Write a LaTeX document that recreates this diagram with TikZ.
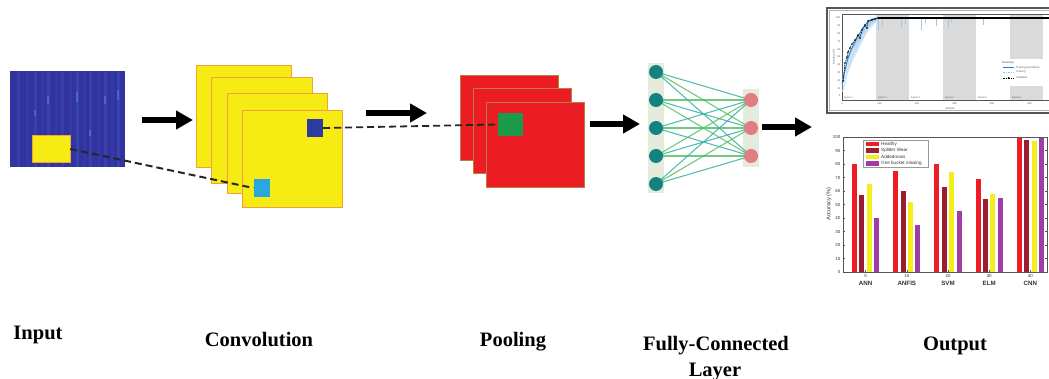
\documentclass[tikz,border=0pt]{standalone}
\usepackage{fontspec}
\setmainfont{Liberation Serif}
\setsansfont{Liberation Sans}
\usetikzlibrary{arrows.meta}
\pgfdeclarelayer{under}
\pgfsetlayers{under,main}

\definecolor{specblue}{HTML}{3134A0}
\definecolor{streakblue}{HTML}{4F6BC8}
\definecolor{streakbright}{HTML}{5FB4E6}
\definecolor{featyellow}{HTML}{F6EC14}
\definecolor{edgeorange}{HTML}{F0A23A}
\definecolor{poolred}{HTML}{EC1C24}
\definecolor{pooledge}{HTML}{B48040}
\definecolor{poolgreen}{HTML}{1C9A4A}
\definecolor{kerneldark}{HTML}{2D3C9C}
\definecolor{kernellight}{HTML}{29A8E0}
\definecolor{nnteal}{HTML}{14827E}
\definecolor{nnpink}{HTML}{E07C82}
\definecolor{nnbar}{HTML}{E4EBDC}
\definecolor{linkgreen}{HTML}{55C063}
\definecolor{linkteal}{HTML}{3AB0A2}
\definecolor{barred}{HTML}{EE1D25}
\definecolor{barmaroon}{HTML}{9C1C31}
\definecolor{baryellow}{HTML}{F4EE1F}
\definecolor{barpurple}{HTML}{A03CA6}
\definecolor{trainlight}{HTML}{9CC8EE}
\definecolor{trainband}{HTML}{C9E2F6}
\definecolor{trainblue}{HTML}{2D7CC4}
\definecolor{epochgray}{HTML}{DADADA}
\definecolor{axisgray}{HTML}{555555}

\begin{document}
\begin{tikzpicture}[x=1pt,y=-1pt,
  sheetY/.style={rectangle, draw=edgeorange, line width=.5pt, fill=featyellow, inner sep=0pt},
  sheetR/.style={rectangle, draw=pooledge, line width=.5pt, fill=poolred, inner sep=0pt},
  kernel/.style={rectangle, inner sep=0pt},
  neuron/.style={circle, inner sep=0pt, minimum size=14pt},
  stagelabel/.style={font=\fontsize{20.5}{24}\selectfont\bfseries, inner sep=0pt, anchor=base},
  bigarrow/.style={line width=6.5pt, -{Triangle[length=17pt,width=18pt]}},
  dashedlink/.style={line width=2pt, dash pattern=on 7pt off 4pt, draw=black!85},
  link/.style={line width=1.1pt, opacity=.85},
  tiny/.style={font=\fontsize{2.6}{3}\selectfont\sffamily, text=axisgray, inner sep=0pt},
  small/.style={font=\fontsize{4.4}{5}\selectfont\sffamily, text=black!80, inner sep=0pt},
]
\useasboundingbox (0,0) rectangle (1049,379);

% ---------- input spectrogram ----------
\node[rectangle, fill=specblue, minimum width=115pt, minimum height=96pt, inner sep=0pt] (input) at (67.5,119) {};
\begin{scope}
  \clip (10,71) rectangle (125,167);
  \foreach \sx/\op in {18/.22,27/.12,35/.25,42/.12,48/.28,56/.12,62/.22,70/.12,77/.3,84/.12,90/.25,98/.12,105/.25,112/.12,118/.28}
    \draw[streakblue, opacity=\op, line width=3pt] (\sx,71) -- (\sx,167);
  \foreach \sx/\sy/\h in {77/92/10,48/96/8,118/90/10,105/96/8,62/140/8,90/130/6,35/110/6}
    \fill[streakbright, opacity=.35] (\sx-1,\sy) rectangle (\sx+1,\sy+\h);
\end{scope}
\node[rectangle, fill=featyellow, draw=edgeorange, line width=.6pt, minimum width=38pt, minimum height=27pt, inner sep=0pt] (patch) at (51,149) {};

% ---------- convolution feature maps ----------
\node[sheetY, minimum width=95pt,  minimum height=102pt] (c1) at (243.5,116) {};
\node[sheetY, minimum width=101pt, minimum height=106pt] (c2) at (261.5,130) {};
\node[sheetY, minimum width=100pt, minimum height=100pt] (c3) at (277,143) {};
\node[sheetY, minimum width=100pt, minimum height=97pt]  (c4) at (292,158.5) {};
\node[kernel, fill=kerneldark,  minimum width=16pt, minimum height=18pt] (kernB) at (315,128) {};
\node[kernel, fill=kernellight, minimum width=16pt, minimum height=18pt] (kernA) at (261.5,188) {};

% ---------- pooling maps ----------
\node[sheetR, minimum width=98pt, minimum height=85pt] (p1) at (509,118) {};
\node[sheetR, minimum width=98pt, minimum height=85pt] (p2) at (522,131) {};
\node[sheetR, minimum width=98pt, minimum height=85pt] (p3) at (535,144.5) {};
\node[kernel, fill=poolgreen, minimum width=25pt, minimum height=23pt] (poolk) at (510.5,124.5) {};

% ---------- fully-connected layer ----------
\foreach \i/\yy in {1/72,2/100,3/128,4/156,5/184}
  \node[neuron, fill=nnteal] (L\i) at (656,\yy) {};
\foreach \i/\yy in {1/100,2/128,3/156}
  \node[neuron, fill=nnpink] (R\i) at (751,\yy) {};
\begin{pgfonlayer}{under}
  \fill[nnbar] (648,63) rectangle (664,193);
  \fill[nnbar] (743,89) rectangle (759,167);
  \foreach \l in {1,...,5}{
    \foreach \r in {1,2,3}{
      \ifodd\numexpr\l+\r\relax \def\lc{linkgreen}\else\def\lc{linkteal}\fi
      \draw[link, draw=\lc] (L\l.center) -- (R\r.center);
    }
  }
\end{pgfonlayer}

% ---------- flow arrows ----------
\coordinate (a1s) at (142,120); \coordinate (a1e) at (193,120);
\coordinate (a2s) at (366,113); \coordinate (a2e) at (427,113);
\coordinate (a3s) at (590,124); \coordinate (a3e) at (640,124);
\coordinate (a4s) at (762,127); \coordinate (a4e) at (812,127);
\draw[bigarrow] (a1s) -- (a1e);
\draw[bigarrow] (a2s) -- (a2e);
\draw[bigarrow] (a3s) -- (a3e);
\draw[bigarrow] (a4s) -- (a4e);

% ---------- receptive-field links ----------
\draw[dashedlink] (patch.east) -- (kernA.west);
\draw[dashedlink, line width=1.8pt] (kernB.east) -- (poolk.west);

% ---------- stage labels ----------
\node[stagelabel] (lin)   at (38,339)  {Input};
\node[stagelabel] (lconv) at (259,346) {Convolution};
\node[stagelabel] (lpool) at (513,346) {Pooling};
\node[stagelabel] (lfc)   at (716,350) {Fully-Connected};
\node[stagelabel] (lfc2)  at (715,376) {Layer};
\node[stagelabel] (lout)  at (955,350) {Output};

% ---------- training progress plot ----------
\begin{scope}
  \clip (0,0) rectangle (1049,379);
  \fill[white] (827,8) rectangle (1062,113);
  \fill[epochgray] (876,14) rectangle (909,100);
  \fill[epochgray] (943,14) rectangle (976,100);
  \fill[epochgray] (1010,14) rectangle (1043,100);
  \draw[axisgray, line width=.4pt] (842,14) rectangle (1062,100);
  % y ticks
  \foreach \v in {0,10,...,100}
    \node[tiny, anchor=east] (yt\v) at (840.5,{96-0.78*\v}) {\v};
  \node[tiny, rotate=90] (ylab) at (834,57) {Accuracy (\%)};
  % x ticks
  \foreach \v/\xx in {0/842,100/879.5,200/917,300/954.5,400/992,500/1029.5}
    \node[tiny, anchor=north] (xt\v) at (\xx,102) {\v};
  \node[tiny] (xlab) at (950,109) {Iteration};
  % epoch tags
  \foreach \e/\xx in {1/844,2/878,3/911,4/945,5/978,6/1012}
    \node[tiny, anchor=south west, font=\fontsize{2.4}{3}\selectfont\sffamily] (ep\e) at (\xx,99) {Epoch \e};
  % training band and raw training
  \fill[trainband, opacity=.9] (842,92) -- (845,78) -- (848,64) -- (852,54) -- (856,44) -- (860,36) -- (864,28) -- (868,22) -- (872,18) -- (880,17) -- (880,19) -- (874,24) -- (869,30) -- (865,36) -- (861,44) -- (857,52) -- (853,60) -- (849,70) -- (846,80) -- (843,92) -- cycle;
  \draw[trainlight, line width=.5pt] (842,88) -- (843,75) -- (844,82) -- (845,66) -- (846,72) -- (847,58) -- (848,64) -- (849,52) -- (850,60) -- (851,47) -- (852,55) -- (853,43) -- (854,50) -- (855,40) -- (856,48) -- (857,36) -- (858,44) -- (859,33) -- (860,42) -- (861,30) -- (862,38) -- (863,27) -- (864,34) -- (865,24) -- (866,31) -- (867,22) -- (868,28) -- (869,20) -- (870,26) -- (871,19) -- (872,24) -- (873,18) -- (874,22) -- (875,18) -- (876,21) -- (878,18) -- (1062,18);
  \foreach \sx/\sy in {878/30,882/26,901/28,905/24,921/30,925/23,936/26,948/28,951/22,983/25}
    \draw[trainlight, line width=.6pt] (\sx,18) -- (\sx,\sy);
  \draw[trainblue, line width=.9pt] (842,84) -- (845,70) -- (848,58) -- (851,50) -- (854,44) -- (857,38) -- (860,33) -- (863,28) -- (866,24) -- (869,21) -- (872,19.5) -- (876,18.5) -- (880,18);
  % validation
  \draw[black, line width=.6pt, dash pattern=on 1.5pt off 1pt] (843,81) -- (845,63) -- (847,57) -- (848,52) -- (850,48) -- (852,44) -- (855,40) -- (858,35) -- (860,38) -- (862,30) -- (865,25) -- (867,28) -- (868,21) -- (872,20) -- (875,19) -- (878,18);
  \foreach \px/\py in {843/81,845/63,847/57,848/52,850/48,852/44,855/40,858/35,860/38,862/30,865/25,867/28,868/21,872/20,875/19,878/18}
    \fill[black] (\px,\py) circle[radius=.9];
  \draw[black, line width=1.1pt] (878,18) -- (1062,18);
  % legend
  \fill[white] (1000,59) rectangle (1062,86);
  \node[tiny, anchor=west, font=\fontsize{2.6}{3}\selectfont\sffamily\bfseries] (lgt) at (1002,63) {Accuracy};
  \draw[trainblue, line width=.6pt] (1003,67.5) -- (1014,67.5);
  \node[tiny, anchor=west] (lg1) at (1016,67.5) {Training (smoothed)};
  \draw[trainlight, line width=.6pt, dash pattern=on 1.5pt off 1pt] (1003,72) -- (1014,72);
  \node[tiny, anchor=west] (lg2) at (1016,72) {Training};
  \draw[black, line width=.5pt, dash pattern=on 1.5pt off 1pt] (1003,78) -- (1014,78);
  \fill[black] (1008.5,78) circle[radius=1];
  \node[tiny, anchor=west] (lg3) at (1016,78) {Validation};
  % frame
  \draw[axisgray, line width=1.4pt] (827,8) rectangle (1062,113);
  \draw[black!30, line width=.8pt] (829.5,10.5) rectangle (1062,110.5);
\end{scope}

% ---------- accuracy bar chart ----------
\begin{scope}
  \clip (0,0) rectangle (1049,379);
  \foreach \g/\a/\b/\c/\d [count=\i from 0] in {ANN/80/57/65/40, ANFIS/75/60/52/35, SVM/80/63/74/45, ELM/69/54/58/55, CNN/100/98/97/99.5}{
    \pgfmathsetmacro\xo{852+41.2*\i}
    \pgfmathtruncatemacro\tk{10*\i}
    \fill[barred]    (\xo,272)      rectangle ({\xo+5},{272-1.35*\a});
    \fill[barmaroon] ({\xo+7.4},272)  rectangle ({\xo+12.4},{272-1.35*\b});
    \fill[baryellow] ({\xo+14.8},272) rectangle ({\xo+19.8},{272-1.35*\c});
    \fill[barpurple] ({\xo+22.2},272) rectangle ({\xo+27.2},{272-1.35*\d});
    \draw[axisgray, line width=.4pt] ({\xo+13.6},272) -- ({\xo+13.6},270);
    \node[small, anchor=north] (bt\i) at ({\xo+13.6},274.5) {\tk};
    \node[small, anchor=north, font=\fontsize{6.2}{7}\selectfont\sffamily\bfseries] (bg\i) at ({\xo+13.6},281) {\g};
  }
  \draw[axisgray, line width=.6pt] (843,137) rectangle (1047,272);
  \foreach \v in {0,10,...,100}{
    \draw[axisgray, line width=.4pt] (843,{272-1.35*\v}) -- (845,{272-1.35*\v});
    \draw[axisgray, line width=.4pt] (1047,{272-1.35*\v}) -- (1045,{272-1.35*\v});
    \node[small, anchor=east] (by\v) at (840.5,{272-1.35*\v}) {\v};
  }
  \node[small, rotate=90, font=\fontsize{5.6}{6}\selectfont\sffamily] (bylab) at (829,204) {Accuracy (\%)};
  % legend
  \draw[black!40, fill=white, line width=.4pt] (863,140) rectangle (928,167);
  \foreach \col/\txt [count=\k from 0] in {barred/Healthy, barmaroon/Splitter Wear, baryellow/Addedmass, barpurple/One bucket missing}{
    \fill[\col] (866,{141.8+6.5*\k}) rectangle (879,{146.2+6.5*\k});
    \node[small, anchor=west, font=\fontsize{4.6}{5}\selectfont\sffamily] (lb\k) at (881,{144+6.5*\k}) {\txt};
  }
\end{scope}
\end{tikzpicture}
\end{document}
